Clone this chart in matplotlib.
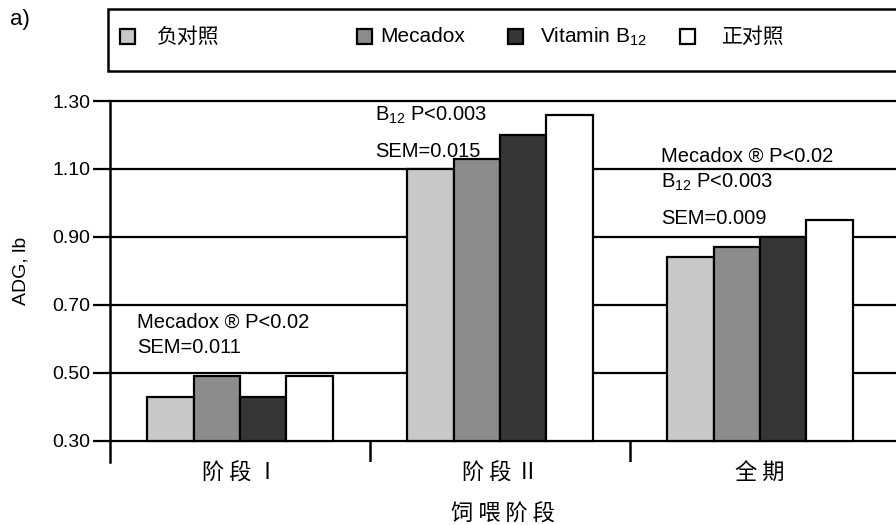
import matplotlib
matplotlib.use("Agg")
import matplotlib.pyplot as plt
from matplotlib.patches import Rectangle
import numpy as np

plt.rcParams["font.family"] = ["Liberation Sans", "Noto Sans CJK SC"]
plt.rcParams["mathtext.fontset"] = "custom"
plt.rcParams["mathtext.rm"] = "Liberation Sans"
plt.rcParams["mathtext.it"] = "Liberation Sans"

# data ------------------------------------------------------------------
stages = ["阶 段 Ⅰ", "阶 段 Ⅱ", "全 期"]
treatments = ["负对照", "Mecadox", "Vitamin B$_{12}$", "正对照"]
adg = {
    "负对照": [0.43, 1.10, 0.84],
    "Mecadox": [0.49, 1.13, 0.87],
    "Vitamin B$_{12}$": [0.43, 1.20, 0.90],
    "正对照": [0.49, 1.26, 0.95],
}
yticks = [0.30, 0.50, 0.70, 0.90, 1.10, 1.30]
notes = [
    ["Mecadox ® P<0.02", "SEM=0.011"],
    ["B$_{12}$ P<0.003", "SEM=0.015"],
    ["Mecadox ® P<0.02", "B$_{12}$ P<0.003", "SEM=0.009"],
]

fills = ["#c8c8c8", "#8c8c8c", "#363636", "white"]
W, H = 896, 525


def fx(x):
    return x / W


def fy(y):
    return (H - y) / H


fig = plt.figure(figsize=(8.96, 5.25), dpi=100)
ax = fig.add_axes([fx(110), fy(462), fx(896 - 110), (462 - 101) / H])
ax.set_xlim(-0.5, 2.523)
ax.set_ylim(0.238, 1.30)

# gridlines
for t in yticks:
    ax.axhline(t, color="black", lw=1.6, zorder=1, clip_on=False)

x = np.arange(len(stages))
w = 0.178
for i, name in enumerate(treatments):
    vals = np.array(adg[name])
    ax.bar(x + (i - 1.5) * w, vals - 0.30, w, bottom=0.30, color=fills[i],
           edgecolor="black", linewidth=1.6, zorder=2)

# separators between groups
ax.vlines([0.5, 1.5], 0.238, 0.30, color="black", lw=1.8, zorder=3)

for s in ["top", "right", "bottom"]:
    ax.spines[s].set_visible(False)
ax.spines["left"].set_linewidth(1.8)

ax.set_yticks(yticks)
ax.set_yticklabels([f"{t:.2f}" for t in yticks], fontsize=14)
ax.tick_params(axis="y", direction="out", length=12, width=1.6, pad=2)
ax.set_xticks(x)
ax.set_xticklabels(stages, fontsize=16, family=["Noto Sans CJK SC"])
ax.tick_params(axis="x", length=0, pad=0)
ax.set_xlabel("饲 喂 阶 段", fontsize=16, family=["Noto Sans CJK SC"], labelpad=13)
ax.set_ylabel("ADG, lb", fontsize=14)
ax.yaxis.set_label_coords(-0.102, 0.53)

# annotations
note_pos = [(-0.396, [0.65, 0.574]),
            (0.519, [1.257, 1.151]),
            (1.619, [1.137, 1.06, 0.954])]
for (nx, ys), lines in zip(note_pos, notes):
    for yy, txt in zip(ys, lines):
        ax.text(nx, yy, txt, fontsize=14.5, va="center", ha="left", zorder=4)

# legend box drawn by hand
fig.add_artist(Rectangle((fx(108), fy(71)), 1.0, 62 / H, transform=fig.transFigure,
                         facecolor="white", edgecolor="black", lw=1.8))
patch_x = [120, 357, 508, 680]
text_x = [157, 380, 540, 722]
for i, name in enumerate(treatments):
    fig.add_artist(Rectangle((fx(patch_x[i]), fy(44)), 15 / W, 15 / H,
                             transform=fig.transFigure, facecolor=fills[i],
                             edgecolor="black", lw=1.6))
    fig.text(fx(text_x[i]), fy(37), name, fontsize=15, va="center", ha="left")

fig.text(fx(10), fy(20), "a)", fontsize=16, va="center", ha="left")

fig.savefig("out.png", dpi=100)
